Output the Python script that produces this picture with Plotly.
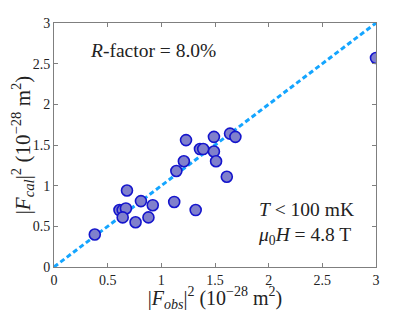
import plotly.graph_objects as go

f_obs = [0.38, 0.61, 0.64, 0.67, 0.64, 0.68, 0.76, 0.81, 0.88, 0.92, 1.12, 1.14,
         1.21, 1.23, 1.32, 1.36, 1.39, 1.49, 1.49, 1.51, 1.61, 1.64, 1.69, 3.00]
f_cal = [0.40, 0.70, 0.70, 0.72, 0.61, 0.94, 0.55, 0.81, 0.61, 0.76, 0.80, 1.18,
         1.30, 1.56, 0.70, 1.45, 1.45, 1.60, 1.42, 1.30, 1.11, 1.64, 1.60, 2.57]
diag = [0, 3]
tick_vals = [0, 0.5, 1, 1.5, 2, 2.5, 3]
tick_text = ["0", "0.5", "1", "1.5", "2", "2.5", "3"]

font = "Liberation Serif, DejaVu Serif, serif"

fig = go.Figure()
fig.add_trace(go.Scatter(x=diag, y=diag, mode="lines",
                         line=dict(color="#14a5ff", width=3, dash="5px,3px"),
                         showlegend=False, hoverinfo="skip"))
fig.add_trace(go.Scatter(x=f_obs, y=f_cal, mode="markers",
                         marker=dict(size=11, color="#8080cc",
                                     line=dict(color="#1515cc", width=1.6)),
                         showlegend=False))

axis_common = dict(range=[0, 3], tickvals=tick_vals, ticktext=tick_text,
                   ticks="inside", ticklen=4, tickcolor="#7f7f7f",
                   showline=True, linecolor="#7f7f7f", linewidth=1,
                   mirror="ticks", showgrid=False, zeroline=False,
                   automargin=False,
                   tickfont=dict(family=font, size=14, color="#222"))

fig.update_layout(
    width=407, height=304,
    margin=dict(l=46, r=39, t=15, b=45, pad=0),
    paper_bgcolor="white", plot_bgcolor="white",
    xaxis=dict(**axis_common,
               title=dict(text="|<i>F<sub>obs</sub></i>|<sup>2</sup> (10<sup>\u221228</sup> m<sup>2</sup>)",
                          font=dict(family=font, size=20, color="#222"), standoff=3)),
    yaxis=dict(**axis_common,
               title=dict(text="|<i>F<sub>cal</sub></i>|<sup>2</sup> (10<sup>\u221228</sup> m<sup>2</sup>)",
                          font=dict(family=font, size=21, color="#222"), standoff=3)),
    annotations=[
        dict(x=0.32, y=2.66, xref="x", yref="y", xanchor="left", yanchor="middle",
             text="<i>R</i>-factor = 8.0%", showarrow=False,
             font=dict(family=font, size=19.5, color="#222")),
        dict(x=1.88, y=0.53, xref="x", yref="y", xanchor="left", yanchor="middle",
             text="<i>T</i> < 100 mK<br><i>\u03bc</i><sub>0</sub><i>H</i> = 4.8 T", showarrow=False,
             align="left", font=dict(family=font, size=19.5, color="#222")),
    ],
)

fig.write_html("out.html")
